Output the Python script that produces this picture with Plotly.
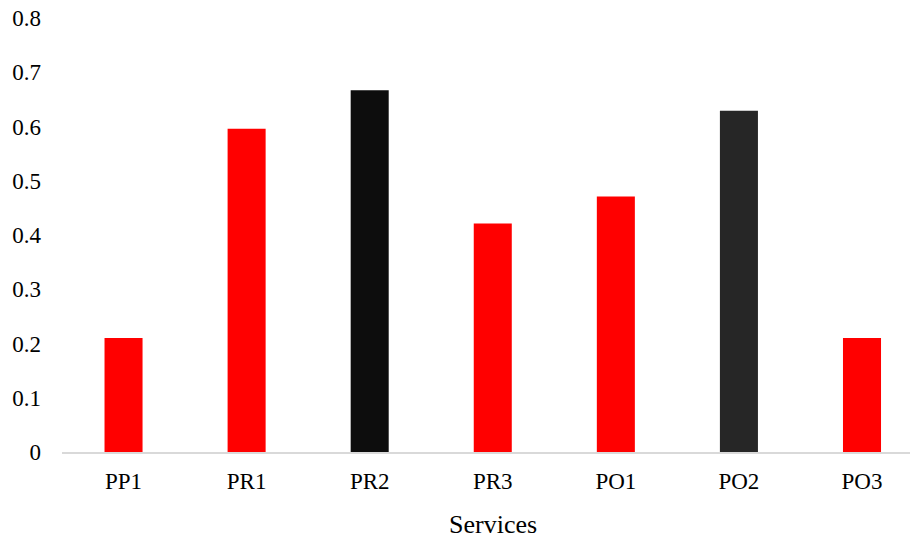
import plotly.graph_objects as go

categories = ["PP1", "PR1", "PR2", "PR3", "PO1", "PO2", "PO3"]
values = [0.21, 0.596, 0.667, 0.421, 0.471, 0.629, 0.21]
colors = ["#FF0000", "#FF0000", "#0D0D0D", "#FF0000", "#FF0000", "#262626", "#FF0000"]
y_ticks = [0, 0.1, 0.2, 0.3, 0.4, 0.5, 0.6, 0.7, 0.8]
y_labels = ["0", "0.1", "0.2", "0.3", "0.4", "0.5", "0.6", "0.7", "0.8"]

font = "Liberation Serif"

fig = go.Figure(go.Bar(x=list(range(len(categories))), y=values, marker_color=colors,
                       marker_line_width=0, width=0.309, hoverinfo="skip"))

fig.update_layout(
    width=910, height=540,
    margin=dict(l=62, r=0, t=18, b=88),
    paper_bgcolor="white", plot_bgcolor="white",
    font=dict(family=font, size=23, color="black"),
    showlegend=False,
    xaxis=dict(range=[-0.5, 6.39], tickmode="array", tickvals=list(range(len(categories))),
               ticktext=categories, showline=True, linecolor="#D9D9D9", linewidth=2,
               showgrid=False, zeroline=False, ticks="", ticklabelstandoff=7),
    yaxis=dict(range=[0, 0.8], tickmode="array", tickvals=y_ticks, ticktext=y_labels,
               showline=False, showgrid=False, zeroline=False, ticks="",
               ticklabelstandoff=20),
    annotations=[dict(text="Services", x=0.508, y=-0.166, xref="paper", yref="paper",
                      showarrow=False, xanchor="center", yanchor="middle",
                      font=dict(family=font, size=26, color="black"))],
)

fig.write_html("out.html", config={"displayModeBar": False},
               post_script="document.body.style.margin='0';")
